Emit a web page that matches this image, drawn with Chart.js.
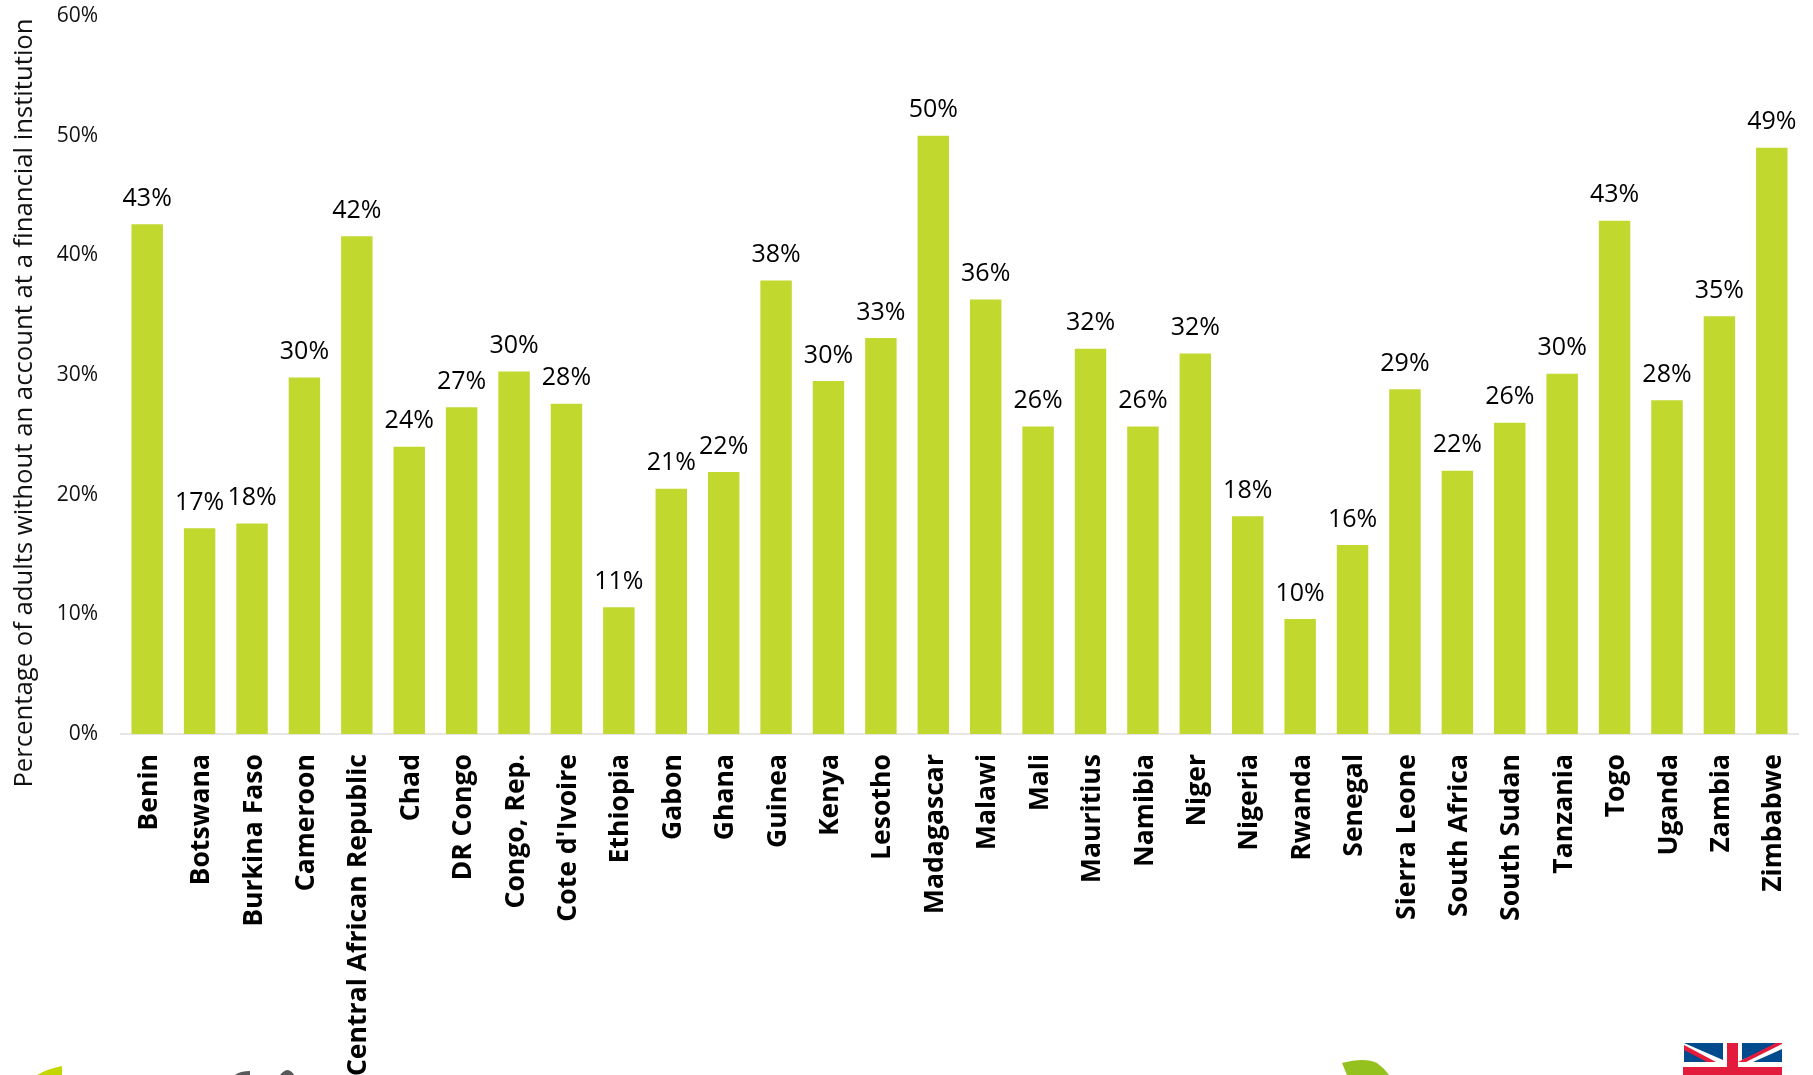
<!DOCTYPE html>
<html>
<head>
<meta charset="utf-8">
<style>
  html, body { margin: 0; padding: 0; background: #fff; overflow: hidden; }
  #wrap { position: relative; width: 1813px; height: 1075px; overflow: hidden; }
  canvas, svg { position: absolute; left: 0; top: 0; }
</style>
<script src="https://cdn.jsdelivr.net/npm/chart.js@4/dist/chart.umd.min.js"></script>
</head>
<body>
<div id="wrap">
  <canvas id="accounts" width="1813" height="1075"></canvas>
  <!-- logos along the bottom edge, cut off by the page -->
  <svg width="1813" height="1075">
    <path d="M62 1066 V1075 H37 Q47 1069 62 1066Z" fill="#c4d600"/>
    <path d="M235 1075 Q240 1071 250 1071 V1075Z" fill="#58595b"/>
    <path d="M280 1075 Q284 1070 288 1070 Q292 1071 294 1075Z" fill="#58595b"/>
    <path d="M1342 1063 Q1365 1057 1377 1063 Q1384 1068 1389 1075 H1347 Z" fill="#95c11f"/>
    <g>
      <rect x="1683" y="1043" width="99" height="32" fill="#fff"/>
      <path d="M1684 1043 H1723 V1060Z M1742 1043 H1782 L1742 1060Z" fill="#004b8d"/>
      <path d="M1684 1049 V1062 H1713Z M1782 1049 V1062 H1753Z" fill="#004b8d"/>
      <path d="M1684 1045 L1716 1062 H1707 L1684 1050Z M1782 1044 L1746 1062 H1738 L1776 1043 H1782Z" fill="#e31b3c"/>
      <rect x="1727" y="1043" width="11" height="32" fill="#e31b3c"/>
      <rect x="1683" y="1067" width="99" height="8" fill="#e31b3c"/>
    </g>
  </svg>
</div>
<script>
const countries = [
  "Benin", "Botswana", "Burkina Faso", "Cameroon", "Central African Republic", "Chad",
  "DR Congo", "Congo, Rep.", "Cote d'Ivoire", "Ethiopia", "Gabon", "Ghana", "Guinea",
  "Kenya", "Lesotho", "Madagascar", "Malawi", "Mali", "Mauritius", "Namibia", "Niger",
  "Nigeria", "Rwanda", "Senegal", "Sierra Leone", "South Africa", "South Sudan",
  "Tanzania", "Togo", "Uganda", "Zambia", "Zimbabwe"
];
const noAccountShare = [
  42.6, 17.2, 17.6, 29.8, 41.6, 24.0, 27.3, 30.3, 27.6, 10.6, 20.5, 21.9, 37.9, 29.5, 33.1, 50.0,
  36.3, 25.7, 32.2, 25.7, 31.8, 18.2, 9.6, 15.8, 28.8, 22.0, 26.0, 30.1, 42.9, 27.9, 34.9, 49.0
];
const axisTitle = "Percentage of adults without an account at a financial institution";

const fontFamily = '"Open Sans", sans-serif';

// value labels above the bars, and the y axis title
const barLabels = {
  id: "barLabels",
  afterDatasetsDraw(chart) {
    const { ctx } = chart;
    ctx.save();
    ctx.font = "25px " + fontFamily;
    ctx.fillStyle = "#000";
    ctx.textAlign = "center";
    ctx.textBaseline = "bottom";
    chart.getDatasetMeta(0).data.forEach((bar, i) => {
      ctx.fillText(Math.round(noAccountShare[i]) + "%", bar.x, bar.y - 13);
    });
    ctx.translate(25, 403);
    ctx.rotate(-Math.PI / 2);
    ctx.textBaseline = "middle";
    ctx.font = "25.7px " + fontFamily;
    ctx.fillStyle = "#111";
    ctx.fillText(axisTitle, 0, 0);
    ctx.restore();
  }
};

new Chart(document.getElementById("accounts"), {
  type: "bar",
  data: {
    labels: countries,
    datasets: [{
      data: noAccountShare,
      backgroundColor: "#c1d82f",
      barPercentage: 0.6,
      categoryPercentage: 1
    }]
  },
  options: {
    responsive: false,
    animation: false,
    layout: { padding: { left: 0, top: 16, right: 15, bottom: 0 } },
    plugins: { legend: { display: false }, tooltip: { enabled: false } },
    scales: {
      y: {
        afterFit(scale) {
          scale.width = 121;
          scale.paddingTop = 0;
          scale.paddingBottom = 0;
        },
        min: 0,
        max: 60,
        ticks: {
          stepSize: 10,
          callback: (v) => v + "%",
          padding: 23,
          font: { family: fontFamily, size: 21 },
          color: "#111"
        },
        grid: { display: false, drawTicks: false },
        border: { display: false }
      },
      x: {
        afterFit(scale) {
          scale.height = 341;
          scale.paddingLeft = 0;
          scale.paddingRight = 0;
        },
        grid: { display: false, drawTicks: false },
        border: { color: "#e6e6e6", width: 2 },
        ticks: {
          autoSkip: false,
          maxRotation: 90,
          minRotation: 90,
          padding: 20,
          labelOffset: 2,
          font: { family: fontFamily, size: 26.6, weight: "bold" },
          color: "#000"
        }
      }
    }
  },
  plugins: [barLabels]
});
</script>
</body>
</html>
